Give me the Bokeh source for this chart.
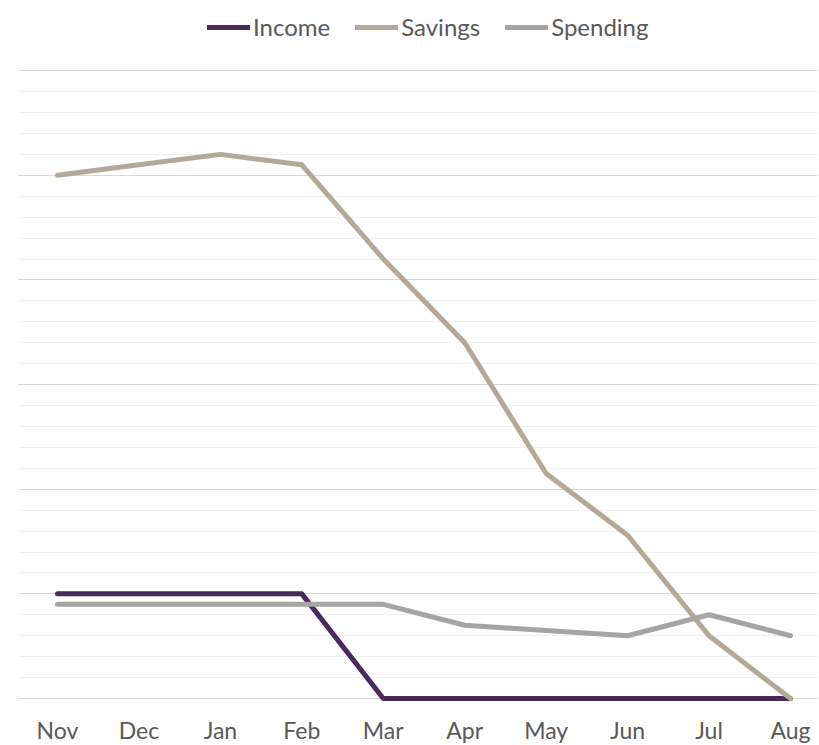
from bokeh.plotting import figure
from bokeh.models import Range1d, FixedTicker, SingleIntervalTicker, Grid, Legend, LegendItem
from bokeh.embed import file_html
from bokeh.resources import INLINE

months = ["Nov", "Dec", "Jan", "Feb", "Mar", "Apr", "May", "Jun", "Jul", "Aug"]
income = [5, 5, 5, 5, 0, 0, 0, 0, 0, 0]
savings = [25, 25.5, 26, 25.5, 21, 17, 10.75, 7.8, 3, 0]
spending = [4.5, 4.5, 4.5, 4.5, 4.5, 3.5, 3.25, 3, 4, 3]

series_names = ["Income", "Savings", "Spending"]
series_values = [income, savings, spending]
series_colors = ["#4A2A59", "#B4A896", "#A5A5A5"]

FONT = "Lato"
xs = list(range(len(months)))

p = figure(
    frame_width=800, frame_height=697,
    min_border_left=18, min_border_right=0, min_border_top=8, min_border_bottom=40,
    x_range=Range1d(-0.479, 9.344), y_range=Range1d(-0.334, 32.97),
    y_axis_location=None, output_backend="svg", toolbar_location=None,
)
p.outline_line_color = None
p.xgrid.visible = False

grid = Grid(dimension=1, ticker=SingleIntervalTicker(interval=5, num_minor_ticks=5),
            bounds=(0, 30), grid_line_color="#D9D9D9", grid_line_width=1,
            minor_grid_line_color="#F0F0F0", minor_grid_line_width=1)
p.add_layout(grid)

ax = p.xaxis[0]
ax.ticker = FixedTicker(ticks=xs)
ax.major_label_overrides = {i: m for i, m in zip(xs, months)}
ax.axis_line_color = None
ax.major_tick_line_color = None
ax.minor_tick_line_color = None
ax.major_tick_out = 0
ax.major_label_standoff = 10
ax.major_label_text_font = FONT
ax.major_label_text_font_size = "23px"
ax.major_label_text_color = "#595959"

items = []
for name, vals, col in zip(series_names, series_values, series_colors):
    r = p.line(xs, vals, line_color=col, line_width=5, line_cap="round", line_join="round")
    items.append(LegendItem(label=name, renderers=[r]))

legend = Legend(items=items, orientation="horizontal", location=(189, 664),
                padding=0, margin=0, border_line_color=None, background_fill_alpha=0,
                glyph_width=43, glyph_height=28, label_height=28, label_standoff=3, spacing=25,
                label_text_font=FONT, label_text_font_size="24px", label_text_color="#595959")
p.add_layout(legend, "center")

open("out.html", "w").write(file_html(p, INLINE))
